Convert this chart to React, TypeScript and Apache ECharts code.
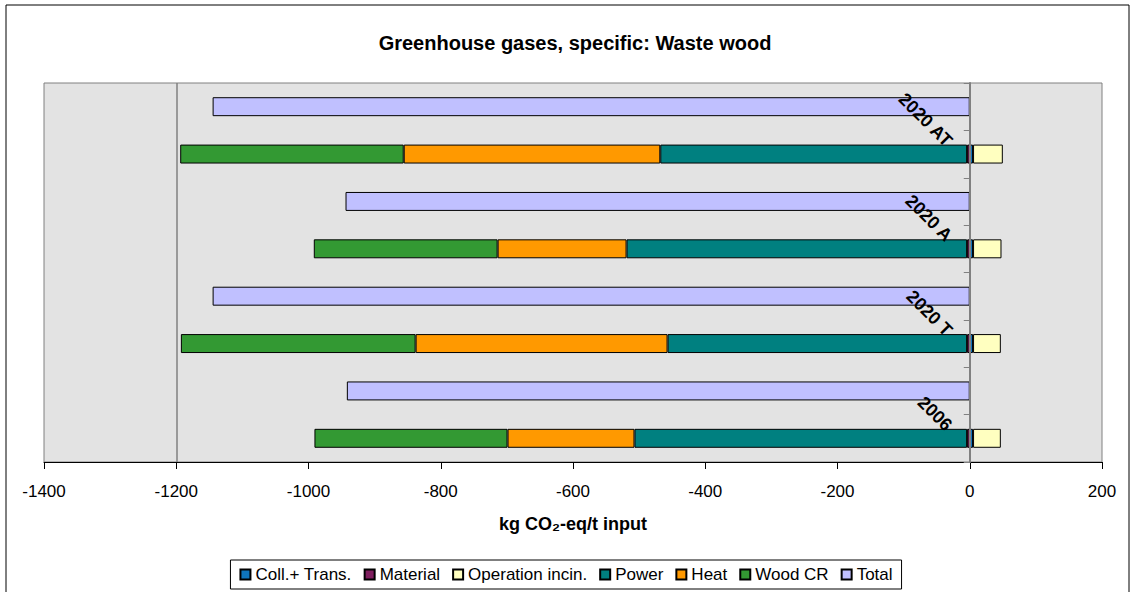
import React, { useEffect, useRef } from "react";
import * as echarts from "echarts";

// ---- data (kg CO2-eq / t input) ----
const scenarios = ["2020 AT", "2020 A", "2020 T", "2006"];
const collTrans = [5, 5, 5, 5];
const material = [-4, -4, -4, -4];
const operationIncin = [45, 43, 42, 42];
const power = [-464, -515, -453, -503];
const heat = [-388, -195, -381, -192];
const woodCR = [-338, -278, -355, -292];
const total = [-1145, -944, -1145, -942];

const xMin = -1400;
const xMax = 200;
const xInterval = 200;
const referenceLine = -1200;

const colors = {
  coll: "#0F75BD",
  material: "#7F1F5F",
  operation: "#FFFFC0",
  power: "#008080",
  heat: "#FF9900",
  wood: "#339933",
  total: "#C0C0FF",
};

const FONT = "'Liberation Sans', Arial, sans-serif";

// each scenario gets two rows: the "Total" bar and the stacked contribution bar
const rows = scenarios.flatMap((s) => [`${s}|total`, `${s}|parts`]);
const partsData = (vals: number[]) => vals.flatMap((v) => ["-", v]);
const totalData = (vals: number[]) => vals.flatMap((v) => [v, "-"]);

// layout of the plot area
const GRID_LEFT = 44;
const GRID_RIGHT = 30;
const WIDTH = 1132;
const plotWidth = WIDTH - GRID_LEFT - GRID_RIGHT;
const zeroOffset = -(plotWidth * (0 - xMin)) / (xMax - xMin);

export default function App() {
  const ref = useRef<HTMLDivElement>(null);

  useEffect(() => {
    document.body.style.margin = "0";
    if (!ref.current) return;
    const chart = echarts.init(ref.current, undefined, { renderer: "svg" });

    const barBase = {
      type: "bar" as const,
      stack: "all",
      barWidth: "40%",
      itemStyle: { borderColor: "#000", borderWidth: 1 },
      emphasis: { disabled: true },
    };

    const option: any = {
      animation: false,
      backgroundColor: "#fff",
      textStyle: { fontFamily: FONT },
      title: {
        text: "Greenhouse gases, specific: Waste wood",
        left: 570,
        textAlign: "center",
        top: 28,
        textStyle: { fontFamily: FONT, fontWeight: "bold", fontSize: 20, color: "#000" },
      },
      graphic: [
        {
          type: "rect",
          shape: { x: 6, y: 5, width: 1123, height: 600 },
          style: { fill: "none", stroke: "#000", lineWidth: 1 },
          silent: true,
          z: -1,
        },
      ],
      legend: {
        left: "center",
        top: 560,
        itemWidth: 10,
        itemHeight: 10,
        itemGap: 12,
        icon: "rect",
        padding: [6, 9, 6, 9],
        borderColor: "#000",
        borderWidth: 1,
        textStyle: { fontFamily: FONT, fontSize: 17, color: "#000" },
        data: ["Coll.+ Trans.", "Material", "Operation incin.", "Power", "Heat", "Wood CR", "Total"],
      },
      grid: {
        left: GRID_LEFT,
        right: GRID_RIGHT,
        top: 83,
        bottom: 130,
        outerBoundsMode: "none",
        containLabel: false,
        show: true,
        backgroundColor: "#E3E3E3",
        borderColor: "#808080",
        borderWidth: 1,
      },
      xAxis: {
        type: "value",
        min: xMin,
        max: xMax,
        interval: xInterval,
        name: "kg CO\u2082-eq/t input",
        nameLocation: "middle",
        nameGap: 53,
        nameTextStyle: { fontFamily: FONT, fontWeight: "bold", fontSize: 18, color: "#000" },
        axisLine: { show: true, onZero: false, lineStyle: { color: "#000", width: 1 } },
        axisTick: { show: true, length: 7, lineStyle: { color: "#000" } },
        axisLabel: {
          fontFamily: FONT,
          fontSize: 17,
          color: "#000",
          margin: 21,
          formatter: (v: number) => String(v),
        },
        splitLine: { show: false },
      },
      yAxis: {
        type: "category",
        data: rows,
        inverse: true,
        position: "left",
        offset: zeroOffset,
        z: 10,
        axisLine: { show: true, onZero: false, lineStyle: { color: "#808080", width: 2 } },
        axisTick: { show: true, length: 6, lineStyle: { color: "#808080" } },
        axisLabel: {
          rotate: -45,
          margin: 10,
          align: "right",
          verticalAlign: "middle",
          padding: [0, 15, 0, 0],
          fontFamily: FONT,
          fontSize: 18,
          fontWeight: "bold",
          color: "#000",
          interval: 0,
          formatter: (v: string) => (v.endsWith("|parts") ? v.split("|")[0] : ""),
        },
        splitLine: { show: false },
      },
      series: [
        { ...barBase, name: "Coll.+ Trans.", data: partsData(collTrans), itemStyle: { ...barBase.itemStyle, color: colors.coll } },
        { ...barBase, name: "Material", data: partsData(material), itemStyle: { ...barBase.itemStyle, color: colors.material } },
        { ...barBase, name: "Operation incin.", data: partsData(operationIncin), itemStyle: { ...barBase.itemStyle, color: colors.operation } },
        { ...barBase, name: "Power", data: partsData(power), itemStyle: { ...barBase.itemStyle, color: colors.power } },
        { ...barBase, name: "Heat", data: partsData(heat), itemStyle: { ...barBase.itemStyle, color: colors.heat } },
        { ...barBase, name: "Wood CR", data: partsData(woodCR), itemStyle: { ...barBase.itemStyle, color: colors.wood } },
        {
          ...barBase,
          name: "Total",
          data: totalData(total),
          itemStyle: { ...barBase.itemStyle, color: colors.total },
          markLine: {
            silent: true,
            symbol: "none",
            label: { show: false },
            lineStyle: { color: "#808080", width: 1.5, type: "solid" },
            data: [{ xAxis: referenceLine }],
          },
        },
      ],
    };

    chart.setOption(option);
    return () => chart.dispose();
  }, []);

  return <div ref={ref} style={{ width: 1132, height: 592 }} />;
}
